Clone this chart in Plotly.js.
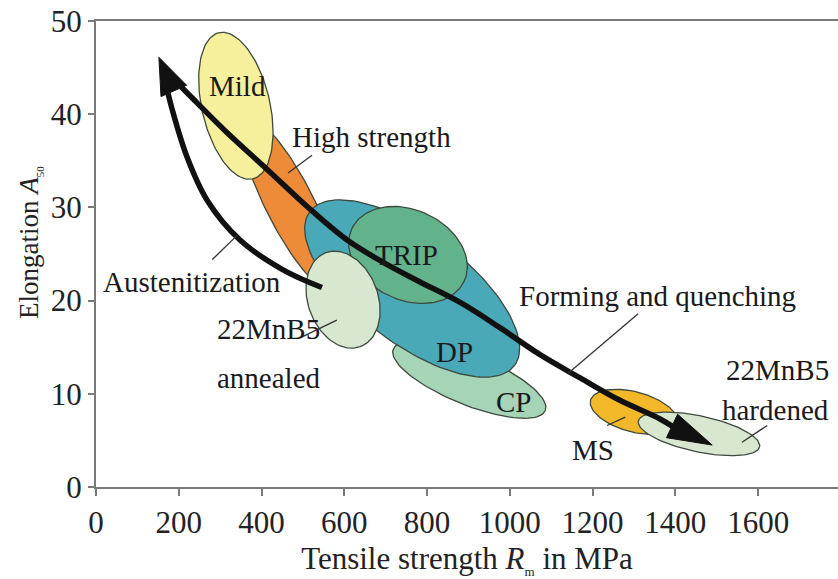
<!DOCTYPE html>
<html>
<head>
<meta charset="utf-8">
<script src="https://cdn.plot.ly/plotly-3.0.1.min.js"></script>
<style>html,body{margin:0;padding:0;background:#fff;overflow:hidden}#chart{width:838px;height:579px}</style>
</head>
<body>
<div id="chart"></div>
<script>
// ---- data (strength in MPa, elongation in %) ----
const regionNames   = ['High strength','Mild','CP','DP','TRIP','22MnB5 annealed','MS','22MnB5 hardened'];
const regionRm      = [469, 338, 902, 764, 754, 597, 1300, 1457];
const regionA50     = [30.3, 40.9, 11.5, 21.3, 24.9, 20.1, 8.06, 5.7];

// process paths (MPa, %)
const austenRm  = [546, 452, 348, 268, 220, 186, 172];
const austenA50 = [21.4, 23.3, 26.5, 30.8, 35.4, 40.2, 42.6];
const formRm  = [184, 220, 317, 413, 510, 607, 694, 783, 880, 976, 1073, 1170, 1266, 1363, 1399];
const formA50 = [43.9, 42.3, 38.0, 34.1, 30.1, 26.5, 24.1, 22.0, 19.8, 17.1, 14.2, 11.7, 9.3, 7.3, 6.34];

const xTicks = [0, 200, 400, 600, 800, 1000, 1200, 1400, 1600];
const yTicks = [0, 10, 20, 30, 40, 50];

// ---- layout constants ----
const W = 838, H = 579;
const M = {l: 96, r: 0, t: 21, b: 92};
const XR = [0, 1793], YR = [0, 50];
const SX = (W - M.l - M.r) / (XR[1] - XR[0]);
const SY = (H - M.t - M.b) / (YR[1] - YR[0]);
const SERIF = 'Liberation Serif, Times New Roman, serif';

// ellipse geometry (screen px / deg) and styles
const geom = {
  semiMajor: [97, 75, 82, 128, 62, 50, 45, 62],
  semiMinor: [24, 34, 25, 55, 45, 35, 20, 18],
  angle:     [63, 77, 22, 37, 25, 70, 15, 12],
  fill: ['#EE8B38', '#F6F09C', '#A5D4B6', '#4AA9B8', '#62B38B', '#D8E7CF', '#F2B82A', '#D8E7CF']
};

function ellipse(cx, cy, a, b, deg) {
  const th = deg * Math.PI / 180, xs = [], ys = [];
  for (let i = 0; i <= 120; i++) {
    const t = 2 * Math.PI * i / 120;
    const dx = a * Math.cos(t) * Math.cos(th) - b * Math.sin(t) * Math.sin(th);
    const dy = a * Math.cos(t) * Math.sin(th) + b * Math.sin(t) * Math.cos(th);
    xs.push(cx + dx / SX); ys.push(cy - dy / SY);
  }
  return {xs, ys};
}

const traces = [];
regionNames.forEach((n, i) => {
  const e = ellipse(regionRm[i], regionA50[i], geom.semiMajor[i], geom.semiMinor[i], geom.angle[i]);
  traces.push({type: 'scatter', mode: 'lines', x: e.xs, y: e.ys, fill: 'toself',
    fillcolor: geom.fill[i], line: {color: '#3d4a3d', width: 1.3}, hoverinfo: 'skip', name: n});
});

// process curves
traces.push({type: 'scatter', mode: 'lines', x: austenRm, y: austenA50,
  line: {color: '#111', width: 5.5, shape: 'spline'}, hoverinfo: 'skip'});
traces.push({type: 'scatter', mode: 'lines', x: formRm, y: formA50,
  line: {color: '#111', width: 5.5, shape: 'spline'}, hoverinfo: 'skip'});

// arrow heads: tip and base centre in data, half width in px
function head(tipX, tipY, baseX, baseY, hw) {
  const px = (tipX - baseX) * SX, py = -(tipY - baseY) * SY;
  const L = Math.hypot(px, py), nx = -py / L, ny = px / L;
  const x1 = baseX + nx * hw / SX, y1 = baseY - ny * hw / SY;
  const x2 = baseX - nx * hw / SX, y2 = baseY + ny * hw / SY;
  return {type: 'scatter', mode: 'lines', x: [tipX, x1, x2, tipX], y: [tipY, y1, y2, tipY],
    fill: 'toself', fillcolor: '#111', line: {color: '#111', width: 1}, hoverinfo: 'skip'};
}
traces.push(head(152, 46.1, 188, 42.5, 14));
traces.push(head(1489, 4.5, 1392, 6.55, 13));

// leader lines (data coords)
const leaders = [
  [464, 33.7, 522, 35.6],
  [281, 24.4, 341, 27.0],
  [498, 16.1, 582, 17.9],
  [1310, 18.6, 1141, 12.2],
  [1235, 6.6, 1279, 7.5],
  [1561, 4.8, 1622, 6.6]
];
const shapes = leaders.map(l => ({type: 'line', xref: 'x', yref: 'y', x0: l[0], y0: l[1], x1: l[2], y1: l[3],
  line: {color: '#333', width: 1.3}}));

const labels = [
  ['Mild', 343, 43.0], ['High strength', 666, 37.6], ['TRIP', 751, 24.9],
  ['Austenitization', 232, 22.0], ['22MnB5', 417, 16.9], ['annealed', 417, 11.7],
  ['DP', 867, 14.5], ['CP', 1008, 9.1], ['Forming and quenching', 1356, 20.5],
  ['MS', 1201, 4.0], ['22MnB5', 1648, 12.6], ['hardened', 1643, 8.3]
];
const annotations = labels.map(t => ({x: t[1], y: t[2], xref: 'x', yref: 'y', text: t[0], showarrow: false,
  font: {family: SERIF, size: 29, color: '#1a1a1a'}}));

// y-axis title placed as rotated annotation
annotations.push({xref: 'paper', yref: 'paper', x: -96 / 742, xanchor: 'left', y: (487 - 243) / 466, yanchor: 'middle',
  text: 'Elongation <i>A</i><sub><span style="font-size:11px">50</span></sub>', textangle: -90, showarrow: false,
  font: {family: SERIF, size: 27, color: '#222'}, xshift: 12});

const tickFont = {family: SERIF, size: 31, color: '#222'};
const layout = {
  width: W, height: H, margin: M, showlegend: false,
  paper_bgcolor: '#fff', plot_bgcolor: '#fff',
  xaxis: {range: XR, tickvals: xTicks, ticktext: xTicks.map(String), showgrid: false, zeroline: false,
    showline: true, mirror: true, linecolor: '#7a7a7a', linewidth: 2, ticks: 'outside', ticklen: 7,
    tickcolor: '#7a7a7a', tickwidth: 2, tickfont: tickFont,
    title: {text: 'Tensile strength <i>R</i><sub><span style="font-size:13px">m</span></sub> in MPa', font: {family: SERIF, size: 31, color: '#222'}, standoff: 12}},
  yaxis: {range: YR, tickvals: yTicks, ticktext: yTicks.map(String), showgrid: false, zeroline: false,
    showline: true, linecolor: '#7a7a7a', linewidth: 2, ticks: 'outside', ticklen: 6,
    tickcolor: '#7a7a7a', tickwidth: 2, tickfont: tickFont},
  shapes: shapes, annotations: annotations
};

Plotly.newPlot('chart', traces, layout, {staticPlot: true, displayModeBar: false});
</script>
</body>
</html>
